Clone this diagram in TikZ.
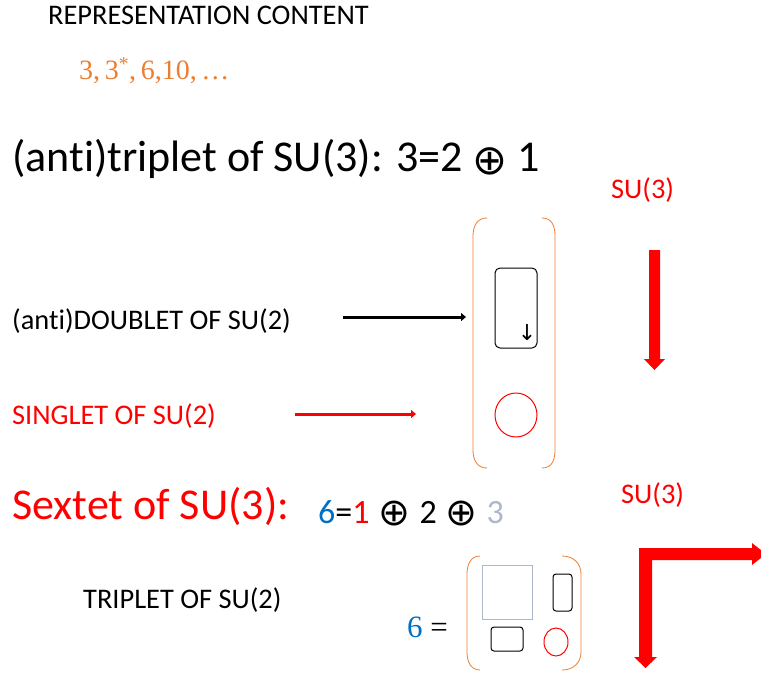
\documentclass[tikz,border=0pt]{standalone}
\usepackage{fontspec}
\setmainfont[Ligatures=NoCommon]{Carlito}
\newfontfamily\symf{DejaVu Sans}
\newfontfamily\serf{Liberation Serif}
\usetikzlibrary{arrows.meta,shapes.geometric}
\definecolor{orng}{HTML}{ED7D31}
\definecolor{blu}{HTML}{0070C0}
\definecolor{gbl}{HTML}{ADB9CA}
\definecolor{rd}{HTML}{FF0000}
\newcommand{\fsz}[1]{\fontsize{#1}{#1}\selectfont}
\newcommand{\opl}[1]{\raisebox{-0.07em}{\scalebox{#1}{\symf ⊕}}}
\begin{document}
\begin{tikzpicture}[x=1pt,y=-1pt,
  txt/.style={inner sep=0pt,anchor=west},
  small/.style={txt,font=\fsz{28.4}},
  big/.style={txt,font=\fsz{44}},
  brack/.style={draw=orng,line width=0.8pt},
  thinarrow/.style={line width=3pt,-{Triangle[length=5pt,width=8pt]}},
  bigarrow/.style={fill=rd,draw=none}]
\useasboundingbox (0,0) rectangle (761,673);
% header
\node[small] (rep) at (48,15) {REPRESENTATION CONTENT};
\node[txt,text=orng,font=\serf\fsz{28}] (list) at (79,71) {3,\,3\textsuperscript{*},\,6,10,\,…};
% triplet
\node[big] (trip) at (12,159) {(anti)triplet of SU(3): 3=2 \opl{0.95}\ 1};
\node[small,text=rd] (su3a) at (611,190) {SU(3)};
\node[small] (dbl) at (12,321) {(anti)DOUBLET OF SU(2)};
\node[small,text=rd] (sgl) at (12,416) {SINGLET OF SU(2)};
\coordinate (a1s) at (343,317);
\coordinate (a1e) at (466,317);
\coordinate (a2s) at (295,414);
\coordinate (a2e) at (416,414);
\draw[thinarrow] (a1s) -- (a1e);
\draw[thinarrow,rd] (a2s) -- (a2e);
\draw[brack] (487,218) .. controls (477,218) and (473,226) .. (473,236) -- (473,450) .. controls (473,460) and (477,468) .. (487,468);
\draw[brack] (542,218) .. controls (552,218) and (555,226) .. (555,236) -- (555,450) .. controls (555,460) and (552,468) .. (542,468);
\node[draw=black,line width=1pt,rounded corners=5pt,minimum width=42pt,minimum height=80pt,inner sep=0pt] (dbox) at (516,308) {};
\node[inner sep=0pt,font=\symf\fsz{22}] (darr) at (527,333) {↓};
\node[draw=rd,line width=1pt,ellipse,minimum width=42pt,minimum height=44pt,inner sep=0pt] (sing) at (516,415) {};
\path[bigarrow] (649,250) -- (660,250) -- (660,359) -- (665,359) -- (654.5,370) -- (644,359) -- (649,359) -- cycle;
% sextet
\node[big,text=rd] (sext) at (12,506) {Sextet of SU(3):};
\node[txt,font=\fsz{34}] (dec) at (318,513) {\textcolor{blu}{6}=\textcolor{rd}{1}\hspace{9pt}\opl{1.12}\hspace{9pt}2\hspace{9pt}\opl{1.12}\hspace{9pt}\textcolor{gbl}{3}};
\node[small,text=rd] (su3b) at (621,495) {SU(3)};
\node[small] (tpl) at (83,600) {TRIPLET OF SU(2)};
\node[txt,font=\serf\fsz{31}] (six) at (407,627) {\textcolor{blu}{6} =};
\draw[brack] (480,556) .. controls (471,556) and (467,564) .. (467,574) -- (467,652) .. controls (467,662) and (471,670) .. (480,670);
\draw[brack] (562,556) .. controls (574,556) and (581,564) .. (581,574) -- (581,652) .. controls (581,662) and (574,670) .. (562,670);
\node[draw=gbl,line width=1pt,minimum width=50pt,minimum height=54pt,inner sep=0pt] (sq) at (507,592) {};
\node[draw=black,line width=1pt,rounded corners=3pt,minimum width=19pt,minimum height=37pt,inner sep=0pt] (vr) at (562.5,592.5) {};
\node[draw=black,line width=1pt,rounded corners=3pt,minimum width=32pt,minimum height=24pt,inner sep=0pt] (hr) at (507,639) {};
\node[draw=rd,line width=1pt,ellipse,minimum width=24pt,minimum height=28pt,inner sep=0pt] (el) at (556,642) {};
\path[bigarrow] (639,548) -- (752,548) -- (752,543) -- (766,554) -- (752,565) -- (752,560) -- (652,560) -- (652,657) -- (657,657) -- (645.5,668) -- (634,657) -- (639,657) -- cycle;
\end{tikzpicture}
\end{document}
